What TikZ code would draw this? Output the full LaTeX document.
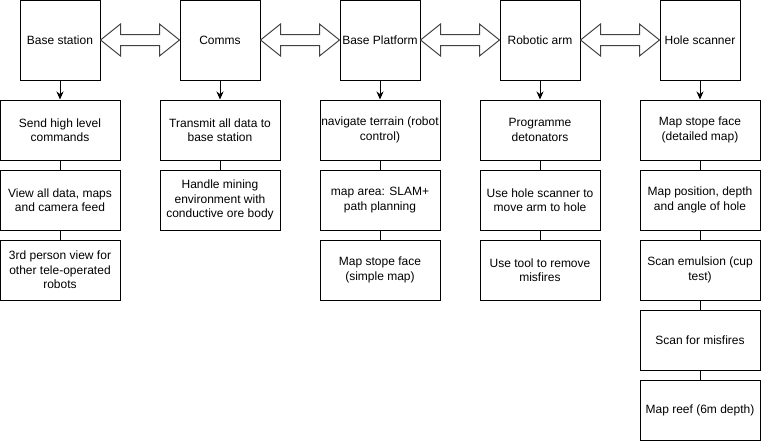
\documentclass[tikz,border=0pt]{standalone}
\usepackage{fontspec}
\setmainfont{Liberation Sans}
\usepackage{tikz}
\usetikzlibrary{calc}
\usetikzlibrary{arrows.meta}
\newcommand{\dblarrow}[2]{\filldraw[fill=white, draw=black!75, line width=1pt] (#1.east) -- ($(#1.east)+(20,-16)$) -- ($(#1.east)+(20,-5.5)$) -- ($(#2.west)+(-20,-5.5)$) -- ($(#2.west)+(-20,-16)$) -- (#2.west) -- ($(#2.west)+(-20,16)$) -- ($(#2.west)+(-20,5.5)$) -- ($(#1.east)+(20,5.5)$) -- ($(#1.east)+(20,16)$) -- cycle;}
\tikzset{
  topbox/.style={draw, line width=1pt, minimum width=80pt, minimum height=80pt, inner sep=0pt, align=center, font=\fontsize{12}{14.5}\selectfont},
  taskbox/.style={draw, line width=1pt, minimum width=120pt, minimum height=60pt, inner sep=0pt, align=center, font=\fontsize{12}{14.5}\selectfont},
  down/.style={line width=1pt, -{Stealth[length=8pt,width=7pt]}},
  link/.style={line width=1pt}
}

\begin{document}
\begin{tikzpicture}[x=1pt, y=-1pt]
        \useasboundingbox (0,0) rectangle (761,442);
        % top row
        \node[topbox] (base) at (60,40) {Base station};
        \node[topbox] (comms) at (220,40) {Comms};
        \node[topbox] (plat) at (380,40) {Base Platform};
        \node[topbox] (arm) at (540,40) {Robotic arm};
        \node[topbox] (scan) at (700,40) {Hole scanner};
        \dblarrow{base}{comms}
        \dblarrow{comms}{plat}
        \dblarrow{plat}{arm}
        \dblarrow{arm}{scan}
        % base station column
        \node[taskbox] (base1) at (60,130) {Send high level\\commands};
        \node[taskbox] (base2) at (60,200) {View all data, maps\\and camera feed};
        \node[taskbox] (base3) at (60,270) {3rd person view for\\other tele-operated\\robots};
        \draw[down] (base) -- (base1);
        \draw[link] (base1) -- (base2);
        \draw[link] (base2) -- (base3);
        % comms column
        \node[taskbox] (comms1) at (220,130) {Transmit all data to\\base station};
        \node[taskbox] (comms2) at (220,200) {Handle mining\\environment with\\conductive ore body};
        \draw[down] (comms) -- (comms1);
        \draw[link] (comms1) -- (comms2);
        % base platform column
        \node[taskbox] (plat1) at (380,130) {navigate terrain (robot\\control)};
        \node[taskbox] (plat2) at (380,200) {map area: SLAM+\\path planning};
        \node[taskbox] (plat3) at (380,270) {Map stope face\\(simple map)};
        \draw[down] (plat) -- (plat1);
        \draw[link] (plat1) -- (plat2);
        \draw[link] (plat2) -- (plat3);
        % robotic arm column
        \node[taskbox] (arm1) at (540,130) {Programme\\detonators};
        \node[taskbox] (arm2) at (540,200) {Use hole scanner to\\move arm to hole};
        \node[taskbox] (arm3) at (540,270) {Use tool to remove\\misfires};
        \draw[down] (arm) -- (arm1);
        \draw[link] (arm1) -- (arm2);
        \draw[link] (arm2) -- (arm3);
        % hole scanner column
        \node[taskbox] (scan1) at (700,130) {Map stope face\\(detailed map)};
        \node[taskbox] (scan2) at (700,200) {Map position, depth\\and angle of hole};
        \node[taskbox] (scan3) at (700,270) {Scan emulsion (cup\\test)};
        \node[taskbox] (scan4) at (700,340) {Scan for misfires};
        \node[taskbox] (scan5) at (700,410) {Map reef (6m depth)};
        \draw[down] (scan) -- (scan1);
        \draw[link] (scan1) -- (scan2);
        \draw[link] (scan2) -- (scan3);
        \draw[link] (scan3) -- (scan4);
        \draw[link] (scan4) -- (scan5);
    \end{tikzpicture}
\end{document}
